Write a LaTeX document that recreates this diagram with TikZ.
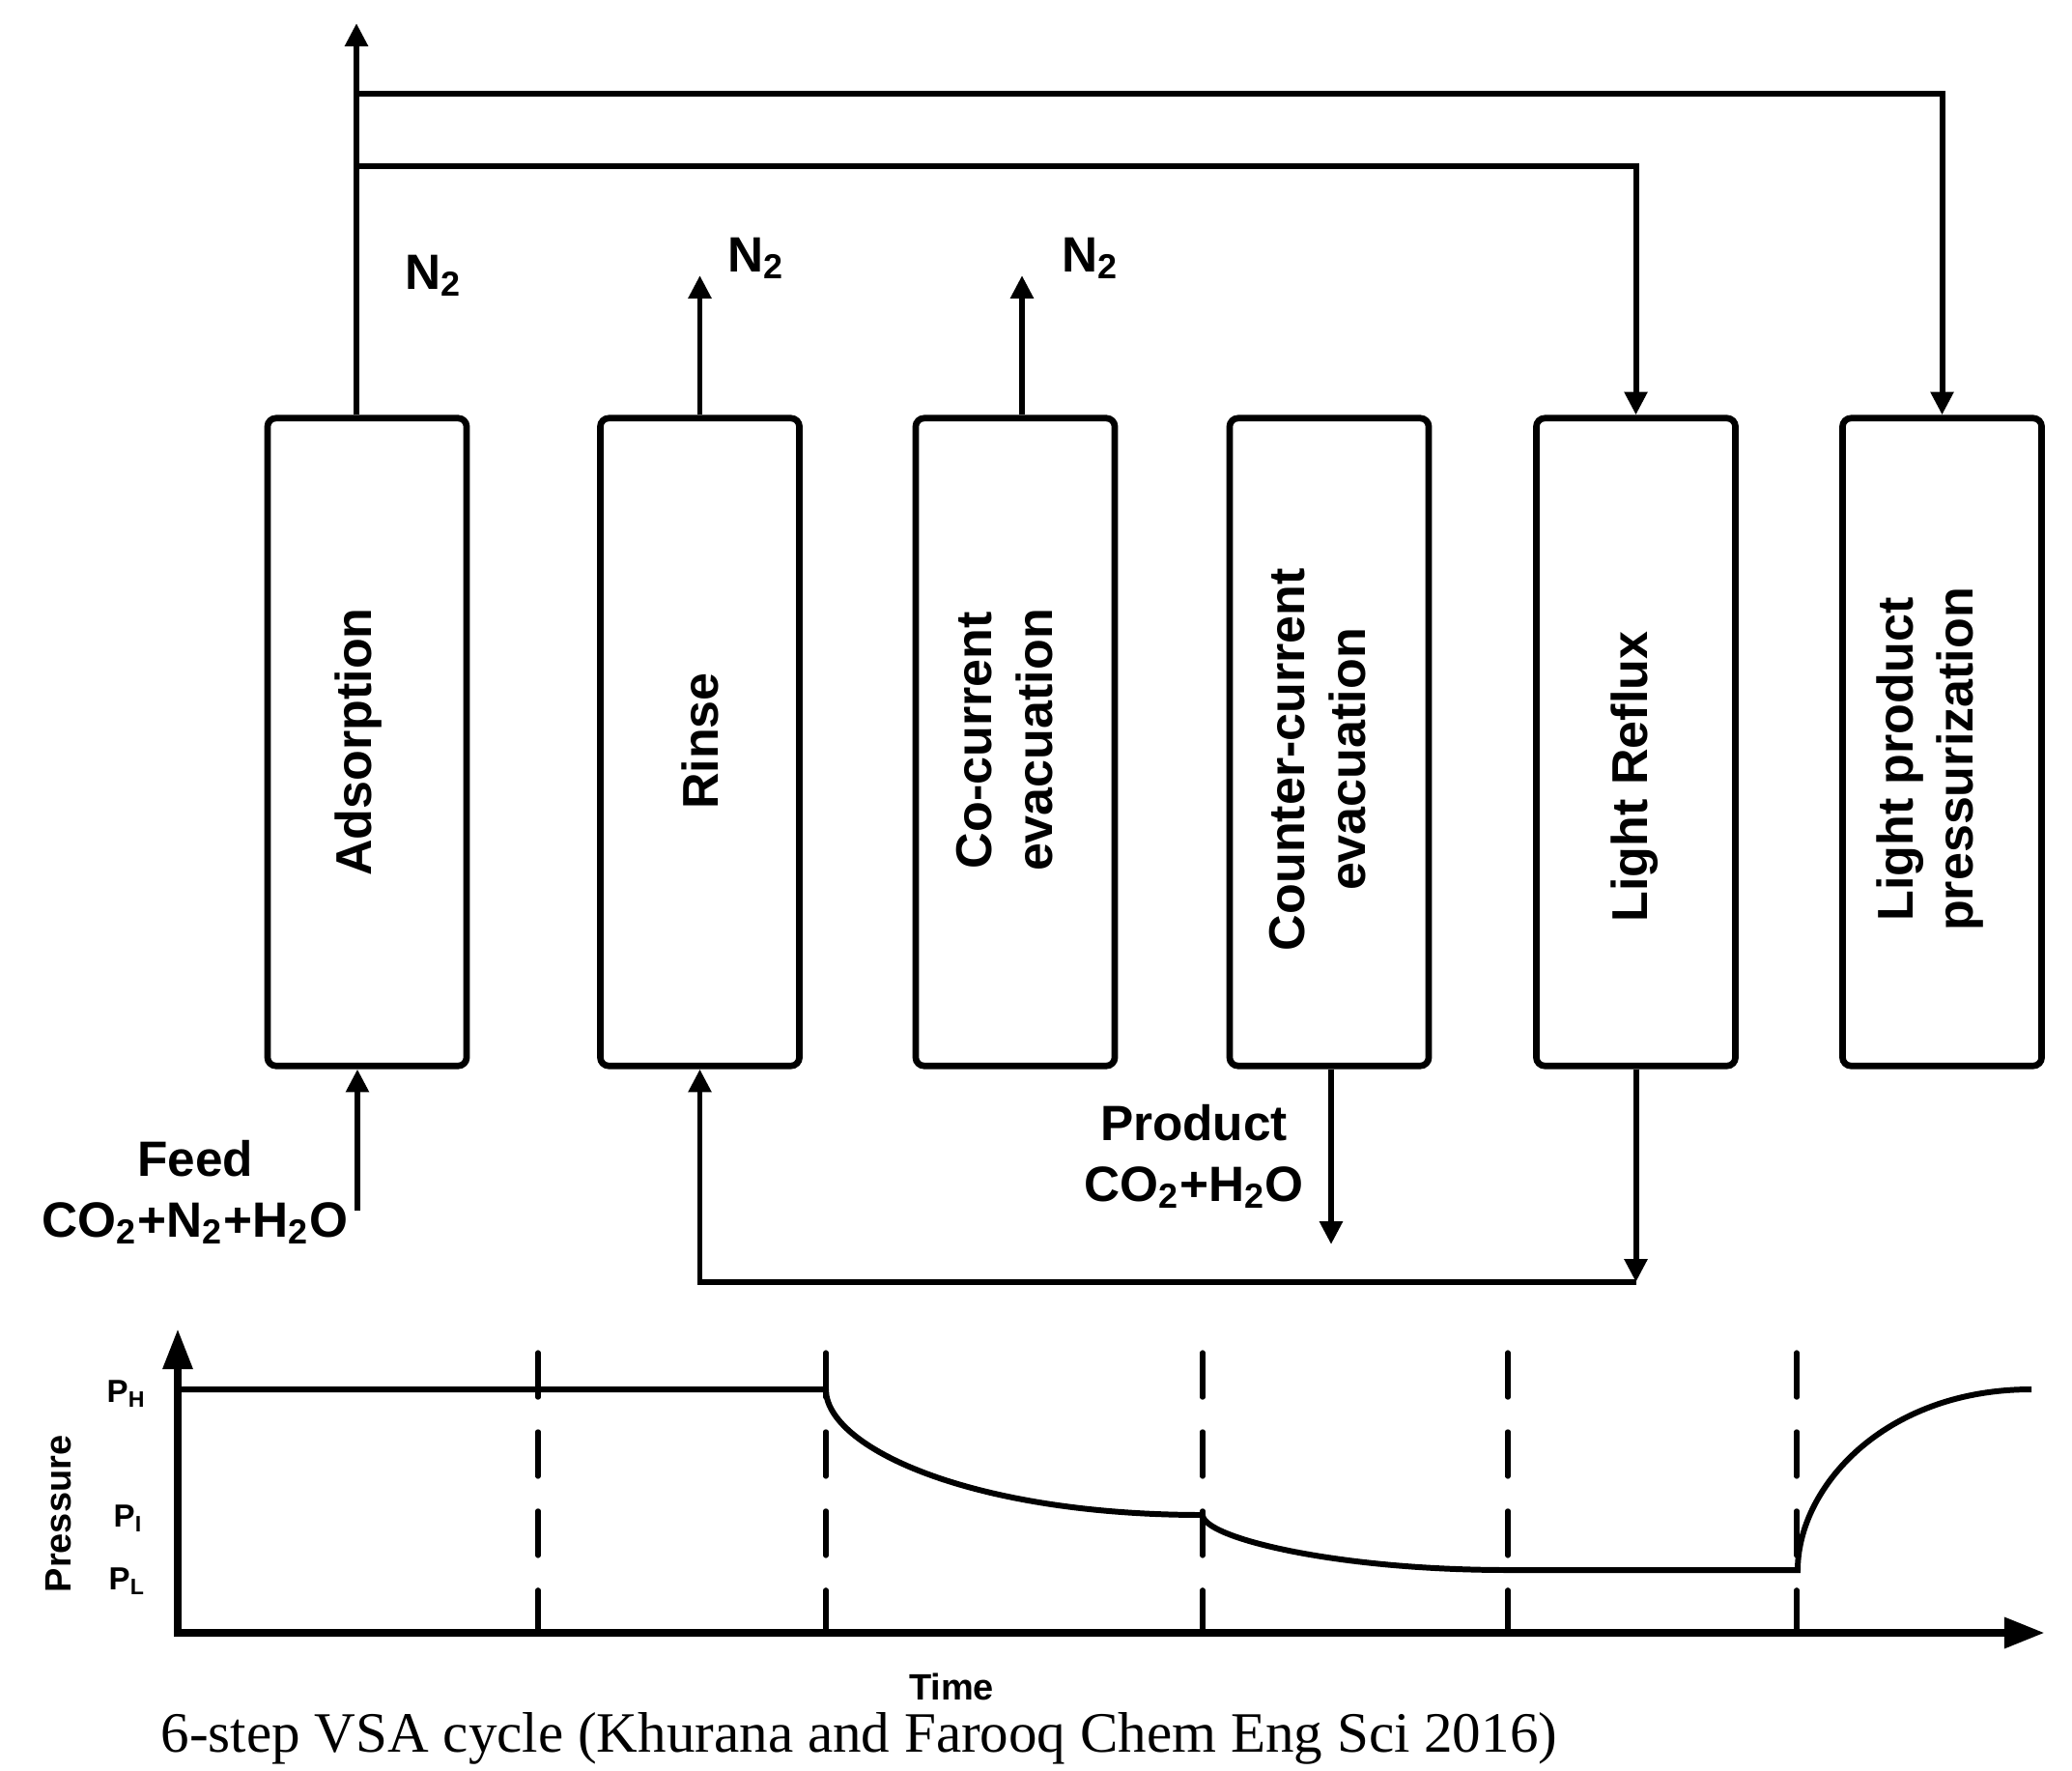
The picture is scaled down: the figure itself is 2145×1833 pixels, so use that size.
\documentclass[tikz,border=0pt]{standalone}
\usepackage{fontspec}
\setmainfont{Liberation Serif}
\newfontfamily\arialfont{Liberation Sans}
\usetikzlibrary{arrows.meta}
\newcommand{\chsub}[1]{\textsubscript{#1}}
\begin{document}
\begin{tikzpicture}[x=0.01cm,y=-0.01cm,
  stepbox/.style={draw, line width=1.9pt, rounded corners=2.5pt, minimum width=2.06cm, minimum height=6.7cm, inner sep=0pt},
  boxtext/.style={rotate=90, align=center, inner sep=0pt, font=\arialfont\bfseries\fontsize{14.8}{17.9}\selectfont},
  lbl/.style={inner sep=0pt, font=\arialfont\bfseries\fontsize{14.6}{17.9}\selectfont},
  plbl/.style={inner sep=0pt, font=\arialfont\bfseries\fontsize{9.4}{11}\selectfont},
  axlbl/.style={inner sep=0pt, font=\arialfont\bfseries\fontsize{10.8}{13}\selectfont},
  wire/.style={line width=1.7pt},
  conn/.style={line width=1.7pt, -{Triangle[length=6.8pt,width=6.5pt]}},
  axisline/.style={line width=2.5pt},
  dashline/.style={line width=1.5pt, line cap=round, dash pattern=on 13.1pt off 10.2pt},
  curveline/.style={line width=1.7pt}
]
\useasboundingbox (0,0) rectangle (2145,1833);

% boxes
\node[stepbox] (b1) at (380,768) {};
\node[stepbox] (b2) at (724.5,768) {};
\node[stepbox] (b3) at (1051,768) {};
\node[stepbox] (b4) at (1376,768) {};
\node[stepbox] (b5) at (1693.5,768) {};
\node[stepbox] (b6) at (2010.5,768) {};

% box texts
\node[boxtext] (t1) at (371,768) {Adsorption};
\node[boxtext] (t2) at (725,767) {Rinse};
\node[boxtext] (t3) at (1040,766) {Co-current\\evacuation};
\node[boxtext] (t4) at (1364,786) {Counter-current\\evacuation};
\node[boxtext] (t5) at (1692,804) {Light Reflux};
\node[boxtext] (t6) at (1998,786) {Light product\\pressurization};

% top connectors
\coordinate (top) at (369,24);
\coordinate (j1) at (369,97);
\coordinate (j2) at (369,172);
\draw[conn] (b1.north -| top) -- (top);
\draw[conn] (j1) -| (b6.north);
\draw[conn] (j2) -| (b5.north);
\coordinate (o2) at (724.5,285);
\coordinate (o3) at (1058,285);
\draw[conn] (b2.north) -- (o2);
\draw[conn] (b3.north -| o3) -- (o3);

% N2 labels
\node[lbl, anchor=base west] (n2a) at (419,299) {N\chsub{2}};
\node[lbl, anchor=base west] (n2b) at (753,281) {N\chsub{2}};
\node[lbl, anchor=base west] (n2c) at (1099,281) {N\chsub{2}};

% bottom connectors
\coordinate (feedstart) at (370,1253);
\draw[conn] (feedstart) -- (feedstart |- b1.south);
\coordinate (prodend) at (1378,1288);
\draw[conn] (prodend |- b4.south) -- (prodend);
\coordinate (lr) at (1693.5,1327);
\draw[conn] (b5.south) -- (lr);
\draw[conn] (lr) -| (b2.south);

% feed / product labels
\node[lbl, anchor=base] (feed1) at (202,1217) {Feed};
\node[lbl, anchor=base] (feed2) at (202,1280) {CO\chsub{2}+N\chsub{2}+H\chsub{2}O};
\node[lbl, anchor=base] (prod1) at (1236,1180) {Product};
\node[lbl, anchor=base] (prod2) at (1236,1243) {CO\chsub{2}+H\chsub{2}O};

% pressure graph
\coordinate (O) at (184,1690);
\coordinate (ytip) at (184,1375);
\coordinate (xtip) at (2117,1690);
\foreach \x in {557,855,1245,1561,1860}
  \draw[dashline] (\x,1400) -- (\x,1690);
\draw[axisline, {Triangle[length=12pt,width=8.3pt]}-{Triangle[length=12pt,width=8.6pt]}] (ytip) -- (O) -- (xtip);
\draw[curveline] (184,1438) -- (855,1438)
  .. controls (855,1498) and (1005,1568) .. (1245,1568)
  .. controls (1245,1591) and (1380,1625) .. (1561,1625)
  -- (1861,1625)
  .. controls (1861,1540) and (1950,1438) .. (2103,1438);

\node[plbl, anchor=base west] (ph) at (110,1451) {P\chsub{H}};
\node[plbl, anchor=base west] (pi) at (117,1580) {P\chsub{I}};
\node[plbl, anchor=base west] (pl) at (112,1645) {P\chsub{L}};
\node[axlbl, rotate=90] (pres) at (61,1567) {Pressure};
\node[axlbl, anchor=base] (time) at (985,1759) {Time};

\node[inner sep=0pt, anchor=base west, font=\fontsize{16.8}{20}\selectfont] (caption) at (166,1813) {6-step VSA cycle (Khurana and Farooq Chem Eng Sci 2016)};
\end{tikzpicture}
\end{document}
